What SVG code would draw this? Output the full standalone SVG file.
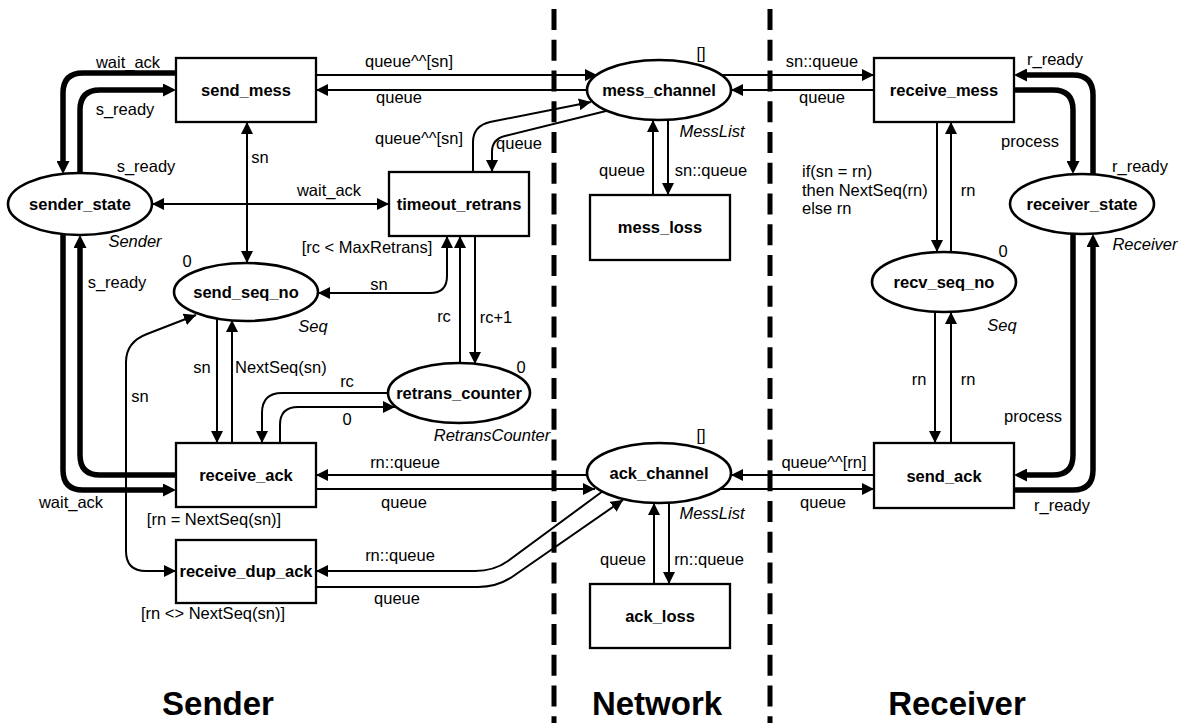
<svg xmlns="http://www.w3.org/2000/svg" width="1182" height="723" viewBox="0 0 1182 723">
<style>
.box{fill:#fff;stroke:#000;stroke-width:2.3}
.place{fill:#fff;stroke:#000;stroke-width:2.6}
.arc{fill:none;stroke:#000;stroke-width:2}
.thick{fill:none;stroke:#000;stroke-width:5.5}
.divider{stroke:#000;stroke-width:5;stroke-dasharray:21 9.75}
text{font-family:"Liberation Sans",Arial,Helvetica,sans-serif;font-size:16.5px;fill:#000}
.name{font-weight:bold;text-anchor:middle}
.lbl{text-anchor:middle}
.st{text-anchor:start}
.type{font-style:italic;text-anchor:middle}
.title{font-weight:bold;font-size:33px;text-anchor:middle}
</style>
<defs>
<marker id="ah" viewBox="0 0 12 12" refX="12" refY="6" markerWidth="12" markerHeight="12" markerUnits="userSpaceOnUse" orient="auto-start-reverse"><path d="M0,0 L12,6 L0,12 z" fill="#000"/></marker>
<marker id="ahk" viewBox="0 0 13 13" refX="6" refY="6.5" markerWidth="13" markerHeight="13" markerUnits="userSpaceOnUse" orient="auto-start-reverse"><path d="M0,0 L13,6.5 L0,13 z" fill="#000"/></marker>
</defs>
<rect width="1182" height="723" fill="#fff"/>

<!-- region dividers -->
<g id="dividers">
<line class="divider" x1="554" y1="9" x2="554" y2="723"/>
<line class="divider" x1="770" y1="9" x2="770" y2="723"/>
</g>

<!-- connectors -->
<g id="connectors">
<!-- control-state loops (thick) -->
<path class="thick" d="M176,73 L83,73 Q63,73 63,93 L63,167" marker-end="url(#ahk)"/>
<path class="thick" d="M80,173 L80,110 Q80,90 100,90 L169,90" marker-end="url(#ahk)"/>
<path class="thick" d="M176,475 L100,475 Q80,475 80,455 L80,242" marker-end="url(#ahk)"/>
<path class="thick" d="M63,234 L63,470 Q63,490 83,490 L169,490" marker-end="url(#ahk)"/>
<path class="thick" d="M1093,175 L1093,95 Q1093,75 1073,75 L1021,75" marker-end="url(#ahk)"/>
<path class="thick" d="M1014,90 L1053,90 Q1073,90 1073,110 L1073,167" marker-end="url(#ahk)"/>
<path class="thick" d="M1073,234 L1073,455 Q1073,475 1053,475 L1021,475" marker-end="url(#ahk)"/>
<path class="thick" d="M1014,490 L1073,490 Q1093,490 1093,470 L1093,241" marker-end="url(#ahk)"/>

<!-- message channel -->
<path class="arc" d="M316,75 L597,75" marker-end="url(#ah)"/>
<path class="arc" d="M588,90 L316,90" marker-end="url(#ah)"/>
<path class="arc" d="M721,75 L874,75" marker-end="url(#ah)"/>
<path class="arc" d="M874,90 L731,90" marker-end="url(#ah)"/>
<path class="arc" d="M653,195 L653,120" marker-end="url(#ah)"/>
<path class="arc" d="M668,120 L668,195" marker-end="url(#ah)"/>
<path class="arc" d="M473,172 L473,142 Q473,126 490,122 L591,102" marker-end="url(#ah)"/>
<path class="arc" d="M606,111 L505,136 Q492,139 492,152 L492,172" marker-end="url(#ah)"/>

<!-- sender internals -->
<path class="arc" d="M152,204 L389,204" marker-start="url(#ah)" marker-end="url(#ah)"/>
<path class="arc" d="M247,122 L247,263" marker-start="url(#ah)" marker-end="url(#ah)"/>
<path class="arc" d="M318,293 L430,293 Q447,293 447,276 L447,236" marker-start="url(#ah)" marker-end="url(#ah)"/>
<path class="arc" d="M460,363 L460,236" marker-end="url(#ah)"/>
<path class="arc" d="M475,236 L475,364" marker-end="url(#ah)"/>
<path class="arc" d="M388,393 L282,393 Q262,393 262,413 L262,443" marker-end="url(#ah)"/>
<path class="arc" d="M280,443 L280,425 Q280,407 298,407 L395,407" marker-end="url(#ah)"/>
<path class="arc" d="M217,318 L217,443" marker-end="url(#ah)"/>
<path class="arc" d="M232,443 L232,320" marker-end="url(#ah)"/>
<path class="arc" d="M196,315 L147,334 Q126,342 126,362 L126,551 Q126,571 146,571 L176,571" marker-start="url(#ah)" marker-end="url(#ah)"/>

<!-- ack channel -->
<path class="arc" d="M587,475 L316,475" marker-end="url(#ah)"/>
<path class="arc" d="M316,489 L595,489" marker-end="url(#ah)"/>
<path class="arc" d="M603,491 L508,561 Q494,571 475,571 L316,571" marker-end="url(#ah)"/>
<path class="arc" d="M316,587 L478,587 Q497,587 512,577 L623,500" marker-end="url(#ah)"/>
<path class="arc" d="M654,584 L654,503" marker-end="url(#ah)"/>
<path class="arc" d="M669,503 L669,584" marker-end="url(#ah)"/>
<path class="arc" d="M874,475 L731,475" marker-end="url(#ah)"/>
<path class="arc" d="M720,489 L874,489" marker-end="url(#ah)"/>

<!-- receiver internals -->
<path class="arc" d="M937,122 L937,252" marker-end="url(#ah)"/>
<path class="arc" d="M951,252 L951,122" marker-end="url(#ah)"/>
<path class="arc" d="M935,312 L935,443" marker-end="url(#ah)"/>
<path class="arc" d="M951,443 L951,312" marker-end="url(#ah)"/>
</g>

<!-- arc inscriptions and guards -->
<g id="arc-labels">
<text class="lbl" x="128" y="68">wait_ack</text>
<text class="lbl" x="125" y="115">s_ready</text>
<text class="lbl" x="146" y="172">s_ready</text>
<text class="lbl" x="117" y="288">s_ready</text>
<text class="lbl" x="71" y="508">wait_ack</text>
<text class="lbl" x="409" y="67">queue^^[sn]</text>
<text class="lbl" x="399" y="103">queue</text>
<text class="lbl" x="822" y="67">sn::queue</text>
<text class="lbl" x="822" y="103">queue</text>
<text class="lbl" x="1055" y="65">r_ready</text>
<text class="lbl" x="1030" y="147">process</text>
<text class="lbl" x="1140" y="172">r_ready</text>
<text class="lbl" x="1033" y="422">process</text>
<text class="lbl" x="1062" y="511">r_ready</text>
<text class="lbl" x="419" y="144">queue^^[sn]</text>
<text class="lbl" x="519" y="149">queue</text>
<text class="lbl" x="329" y="196">wait_ack</text>
<text class="lbl" x="260" y="163">sn</text>
<text class="lbl" x="367" y="253">[rc &lt; MaxRetrans]</text>
<text class="lbl" x="379" y="290">sn</text>
<text class="lbl" x="444" y="322">rc</text>
<text class="lbl" x="496" y="323">rc+1</text>
<text class="lbl" x="347" y="387">rc</text>
<text class="lbl" x="347" y="425">0</text>
<text class="lbl" x="202" y="373">sn</text>
<text class="st" x="235" y="373">NextSeq(sn)</text>
<text class="lbl" x="140" y="402">sn</text>
<text class="lbl" x="214" y="525">[rn = NextSeq(sn)]</text>
<text class="lbl" x="213" y="619">[rn &lt;&gt; NextSeq(sn)]</text>
<text class="lbl" x="405" y="468">rn::queue</text>
<text class="lbl" x="404" y="508">queue</text>
<text class="lbl" x="400" y="561">rn::queue</text>
<text class="lbl" x="397" y="604">queue</text>
<text class="lbl" x="622" y="176">queue</text>
<text class="lbl" x="711" y="176">sn::queue</text>
<text class="lbl" x="623" y="565">queue</text>
<text class="lbl" x="709" y="565">rn::queue</text>
<text class="lbl" x="824" y="468">queue^^[rn]</text>
<text class="lbl" x="823" y="508">queue</text>
<text class="st" x="802" y="177">if(sn = rn)</text>
<text class="st" x="802" y="196">then NextSeq(rn)</text>
<text class="st" x="802" y="214">else rn</text>
<text class="lbl" x="968" y="196">rn</text>
<text class="lbl" x="919" y="385">rn</text>
<text class="lbl" x="968" y="385">rn</text>
</g>

<!-- places -->
<g id="sender_state">
<ellipse class="place" cx="80" cy="204" rx="72" ry="31"/>
<text class="name" x="80" y="210">sender_state</text>
<text class="type" x="135" y="247">Sender</text>
</g>
<g id="send_seq_no">
<ellipse class="place" cx="246" cy="292" rx="72" ry="29"/>
<text class="name" x="246" y="298">send_seq_no</text>
<text class="lbl" x="187" y="267">0</text>
<text class="type" x="313" y="332">Seq</text>
</g>
<g id="retrans_counter">
<ellipse class="place" cx="459" cy="393" rx="71" ry="30"/>
<text class="name" x="459" y="399">retrans_counter</text>
<text class="lbl" x="521" y="373">0</text>
<text class="type" x="492" y="441">RetransCounter</text>
</g>
<g id="mess_channel">
<ellipse class="place" cx="659" cy="90" rx="72" ry="30"/>
<text class="name" x="659" y="96">mess_channel</text>
<text class="lbl" x="701" y="59">[]</text>
<text class="type" x="712" y="137">MessList</text>
</g>
<g id="ack_channel">
<ellipse class="place" cx="659" cy="473" rx="72" ry="30"/>
<text class="name" x="659" y="479">ack_channel</text>
<text class="lbl" x="701" y="441">[]</text>
<text class="type" x="712" y="519">MessList</text>
</g>
<g id="receiver_state">
<ellipse class="place" cx="1082" cy="204" rx="72" ry="30"/>
<text class="name" x="1082" y="210">receiver_state</text>
<text class="type" x="1145" y="250">Receiver</text>
</g>
<g id="recv_seq_no">
<ellipse class="place" cx="944" cy="282" rx="72" ry="30"/>
<text class="name" x="944" y="288">recv_seq_no</text>
<text class="lbl" x="1003" y="257">0</text>
<text class="type" x="1002" y="331">Seq</text>
</g>

<!-- transitions -->
<g id="send_mess">
<rect class="box" x="176" y="58" width="140" height="64"/>
<text class="name" x="246" y="96">send_mess</text>
</g>
<g id="timeout_retrans">
<rect class="box" x="389" y="172" width="140" height="64"/>
<text class="name" x="459" y="210">timeout_retrans</text>
</g>
<g id="receive_ack">
<rect class="box" x="176" y="443" width="140" height="64"/>
<text class="name" x="246" y="481">receive_ack</text>
</g>
<g id="receive_dup_ack">
<rect class="box" x="176" y="540" width="140" height="63"/>
<text class="name" x="246" y="577">receive_dup_ack</text>
</g>
<g id="mess_loss">
<rect class="box" x="590" y="195" width="140" height="65"/>
<text class="name" x="660" y="233">mess_loss</text>
</g>
<g id="ack_loss">
<rect class="box" x="590" y="584" width="140" height="64"/>
<text class="name" x="660" y="622">ack_loss</text>
</g>
<g id="receive_mess">
<rect class="box" x="874" y="58" width="140" height="64"/>
<text class="name" x="944" y="96">receive_mess</text>
</g>
<g id="send_ack">
<rect class="box" x="874" y="443" width="140" height="65"/>
<text class="name" x="944" y="482">send_ack</text>
</g>

<!-- region titles -->
<g id="titles">
<text class="title" x="218" y="715">Sender</text>
<text class="title" x="657" y="715">Network</text>
<text class="title" x="957" y="715">Receiver</text>
</g>
</svg>
